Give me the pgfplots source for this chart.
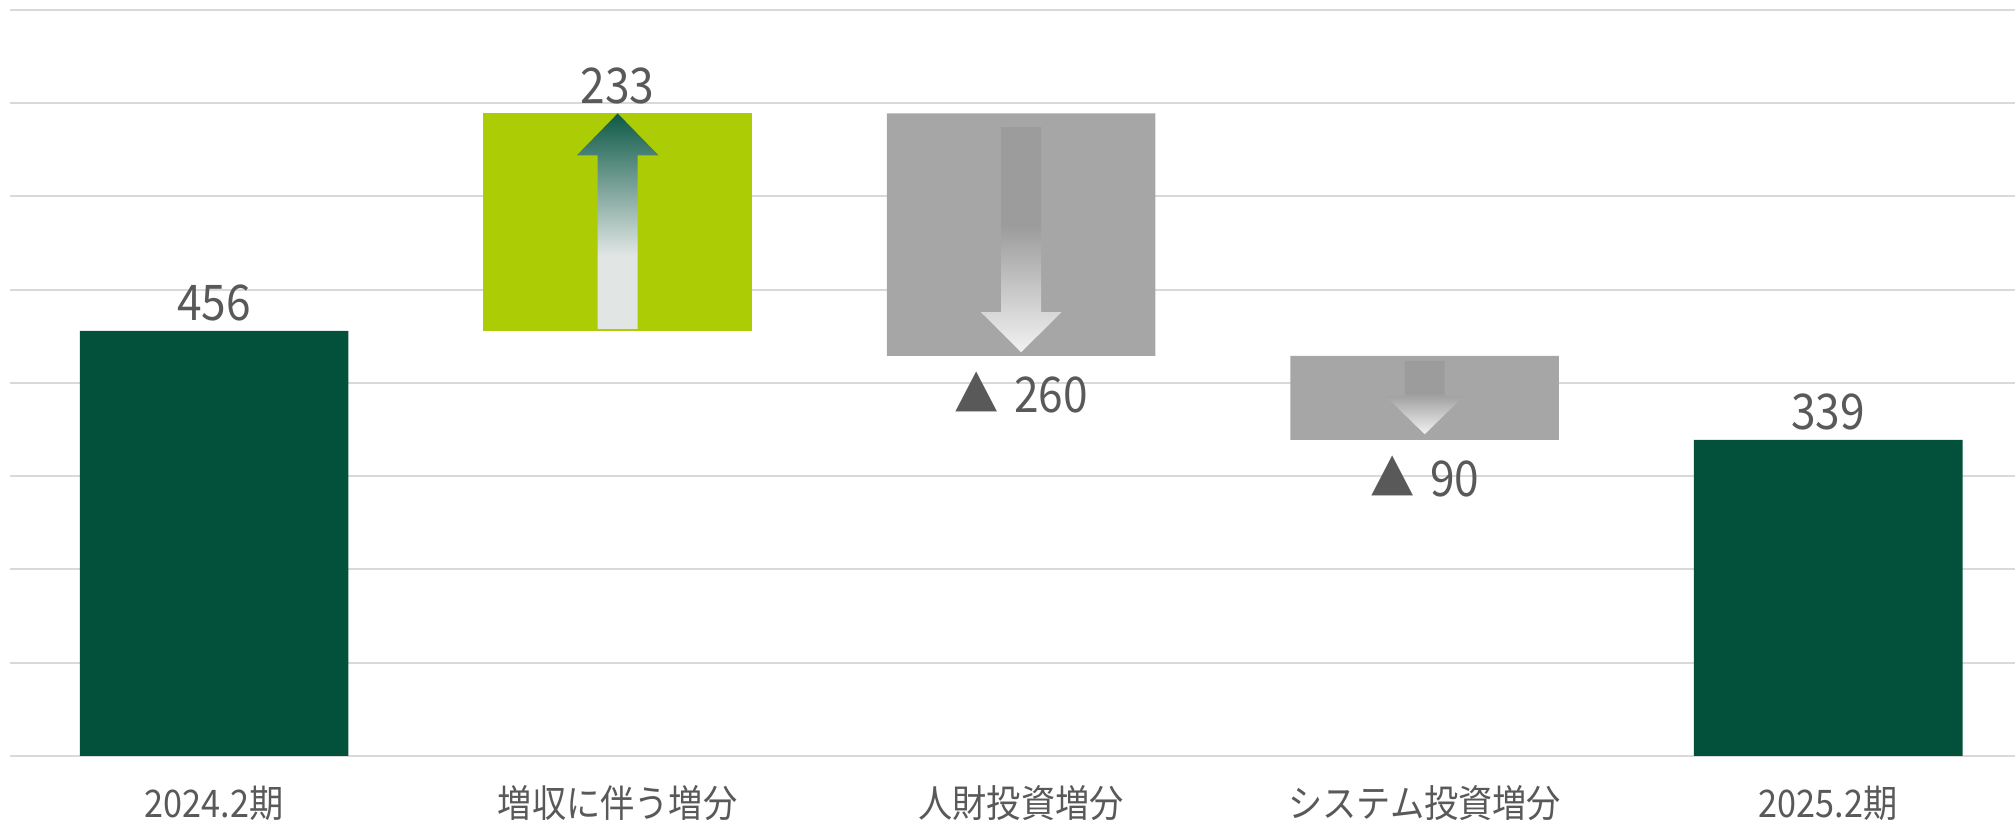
\documentclass[border=0pt]{standalone}
\usepackage{fontspec}
\setmainfont[FakeStretch=0.9]{Noto Sans CJK JP}
\usepackage{pgfplots}
\pgfplotsset{compat=1.18}
\definecolor{dgreen}{HTML}{03513B}
\definecolor{agreen}{HTML}{0D5A47}
\definecolor{alight}{HTML}{E1E6E5}
\definecolor{lime}{HTML}{ACCD05}
\definecolor{barg}{HTML}{A6A6A6}
\definecolor{amid}{HTML}{9C9C9C}
\definecolor{awhite}{HTML}{F2F2F2}
\definecolor{txt}{HTML}{595959}
\definecolor{gridc}{HTML}{D9D9D9}
\pgfdeclareverticalshading{upgreen}{100bp}{color(0bp)=(alight); color(25bp)=(alight); color(42bp)=(alight); color(75bp)=(agreen); color(100bp)=(agreen)}
\pgfdeclareverticalshading{downgray}{100bp}{color(0bp)=(awhite); color(25bp)=(awhite); color(53bp)=(amid); color(75bp)=(amid); color(100bp)=(amid)}
\tikzset{lbl/.style={font=\fontsize{12.3}{14}\selectfont, text=txt, anchor=center, inner sep=0pt}}
\begin{document}
\begin{tikzpicture}
\begin{axis}[
  at={(0,0)}, anchor=south west,
  scale only axis, width=501.25pt, height=186.5pt,
  xmin=-0.506, xmax=4.463, ymin=0, ymax=800,
  clip=false,
  ybar stacked, bar width=67.15pt,
  axis line style={draw=none},
  ytick={0,100,...,800}, yticklabels={},
  ymajorgrids, grid style={color=gridc, line width=0.5pt},
  major tick length=0pt,
  xtick={0,1,2,3,4},
  xticklabels={2024.2期, 増収に伴う増分, 人財投資増分, システム投資増分, 2025.2期},
  xticklabel style={font=\fontsize{9.5}{11}\selectfont, text=txt, anchor=center, yshift=-11.75pt},
  after end axis/.code={
    \shade[shading=upgreen] (axis cs:0.9504,458) -- (axis cs:0.9504,644) -- (axis cs:0.8984,644) -- (axis cs:1,689) -- (axis cs:1.1016,644) -- (axis cs:1.0496,644) -- (axis cs:1.0496,458) -- cycle;
    \shade[shading=downgray] (axis cs:1.9504,674.5) -- (axis cs:1.9504,476) -- (axis cs:1.9,476) -- (axis cs:2,433) -- (axis cs:2.1,476) -- (axis cs:2.0496,476) -- (axis cs:2.0496,674.5) -- cycle;
    \shade[shading=downgray] (axis cs:2.9504,423.6) -- (axis cs:2.9504,386) -- (axis cs:2.903,386) -- (axis cs:3,345) -- (axis cs:3.097,386) -- (axis cs:3.0496,386) -- (axis cs:3.0496,423.6) -- cycle;
    \node[lbl, yshift=7pt] at (axis cs:0,456) {456};
    \node[lbl, yshift=7pt] at (axis cs:1,689) {233};
    \node[lbl, yshift=-9.25pt] at (axis cs:2,429) {▲\hspace{1.5pt} 260};
    \node[lbl, yshift=-9.25pt] at (axis cs:3,339) {▲\hspace{1.5pt} 90};
    \node[lbl, yshift=7pt] at (axis cs:4,339) {339};
  },
]
\addplot[fill=none, draw=none] coordinates {(0,0) (1,456) (2,429) (3,339) (4,0)};
\addplot[fill=dgreen, draw=none] coordinates {(0,456) (1,0) (2,0) (3,0) (4,339)};
\addplot[fill=lime, draw=none] coordinates {(0,0) (1,233) (2,0) (3,0) (4,0)};
\addplot[fill=barg, draw=none] coordinates {(0,0) (1,0) (2,260) (3,90) (4,0)};
\end{axis}
\pgfresetboundingbox
\useasboundingbox (-2.5pt,-16pt) rectangle (501.25pt,189pt);
\end{tikzpicture}
\end{document}
